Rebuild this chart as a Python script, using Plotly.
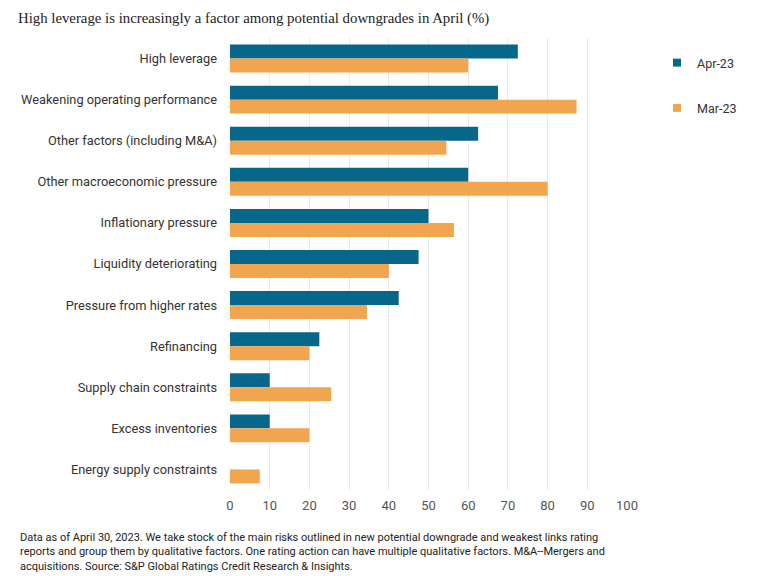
import plotly.graph_objects as go

categories = [
    "High leverage",
    "Weakening operating performance",
    "Other factors (including M&A)",
    "Other macroeconomic pressure",
    "Inflationary pressure",
    "Liquidity deteriorating",
    "Pressure from higher rates",
    "Refinancing",
    "Supply chain constraints",
    "Excess inventories",
    "Energy supply constraints",
]
apr23 = [72.5, 67.5, 62.5, 60.0, 50.0, 47.5, 42.5, 22.5, 10.0, 10.0, 0.0]
mar23 = [60.0, 87.3, 54.5, 80.0, 56.4, 40.0, 34.5, 20.0, 25.5, 20.0, 7.5]
x_ticks = [0, 10, 20, 30, 40, 50, 60, 70, 80, 90, 100]

title_text = "High leverage is increasingly a factor among potential downgrades in April (%)"
footer_text = ("Data as of April 30, 2023. We take stock of the main risks outlined in new potential downgrade and weakest links rating<br>"
               "reports and group them by qualitative factors. One rating action can have multiple qualitative factors. M&A--Mergers and<br>"
               "acquisitions. Source: S&P Global Ratings Credit Research & Insights.")

TEAL = "#07678a"
ORANGE = "#f2a54f"

fig = go.Figure()
fig.add_trace(go.Bar(y=categories, x=apr23, orientation="h", name="Apr-23",
                     marker=dict(color=TEAL, line=dict(width=0)), showlegend=False))
fig.add_trace(go.Bar(y=categories, x=mar23, orientation="h", name="Mar-23",
                     marker=dict(color=ORANGE, line=dict(width=0)), showlegend=False))
# legend entries with small square swatches
fig.add_trace(go.Scatter(x=[None], y=[None], mode="markers", name="Apr-23",
                         marker=dict(symbol="square", size=8, color=TEAL), legendgroup="a"))
fig.add_trace(go.Scatter(x=[None], y=[None], mode="markers", name="Mar-23",
                         marker=dict(symbol="square", size=8, color=ORANGE), legendgroup="b"))

L, R, T, B = 230, 141, 38, 86
W, H = 768, 576
ph = H - T - B
pw = W - L - R

fig.update_layout(
    width=W, height=H,
    margin=dict(l=L, r=R, t=T, b=B, autoexpand=False),
    paper_bgcolor="white", plot_bgcolor="white",
    barmode="group", bargap=0.32, bargroupgap=0,
    font=dict(family="Roboto", size=12, color="#333333"),
    title=dict(text=title_text, x=18 / W, xref="container", xanchor="left",
               y=1 - 18 / H, yref="container", yanchor="middle",
               font=dict(family="Liberation Serif", size=14.8, color="#222222")),
    xaxis=dict(range=[0, 100], tickvals=x_ticks, showgrid=True, gridcolor="#e9e9e9",
               gridwidth=1, zeroline=False, showline=False,
               tickfont=dict(family="Roboto", size=13, color="#555555"),
               ticks="", ticklabelstandoff=6),
    yaxis=dict(autorange="reversed", showgrid=False, zeroline=False, showline=False,
               tickfont=dict(family="Roboto", size=12.8, color="#333333"),
               ticks="", ticklabelstandoff=12),
    legend=dict(x=(657 - L) / pw, xanchor="left", y=(H - B - 48) / ph, yanchor="top",
                yref="paper", tracegroupgap=26, itemwidth=30,
                font=dict(family="Roboto", size=12.5, color="#333333"),
                bgcolor="rgba(0,0,0,0)"),
    annotations=[dict(text=footer_text, xref="paper", yref="paper",
                      x=(18 - L) / pw, y=(H - B - 529) / ph, xanchor="left", yanchor="top",
                      align="left", showarrow=False,
                      font=dict(family="Roboto", size=11, color="#222222"))],
)

fig.write_html("out.html")
